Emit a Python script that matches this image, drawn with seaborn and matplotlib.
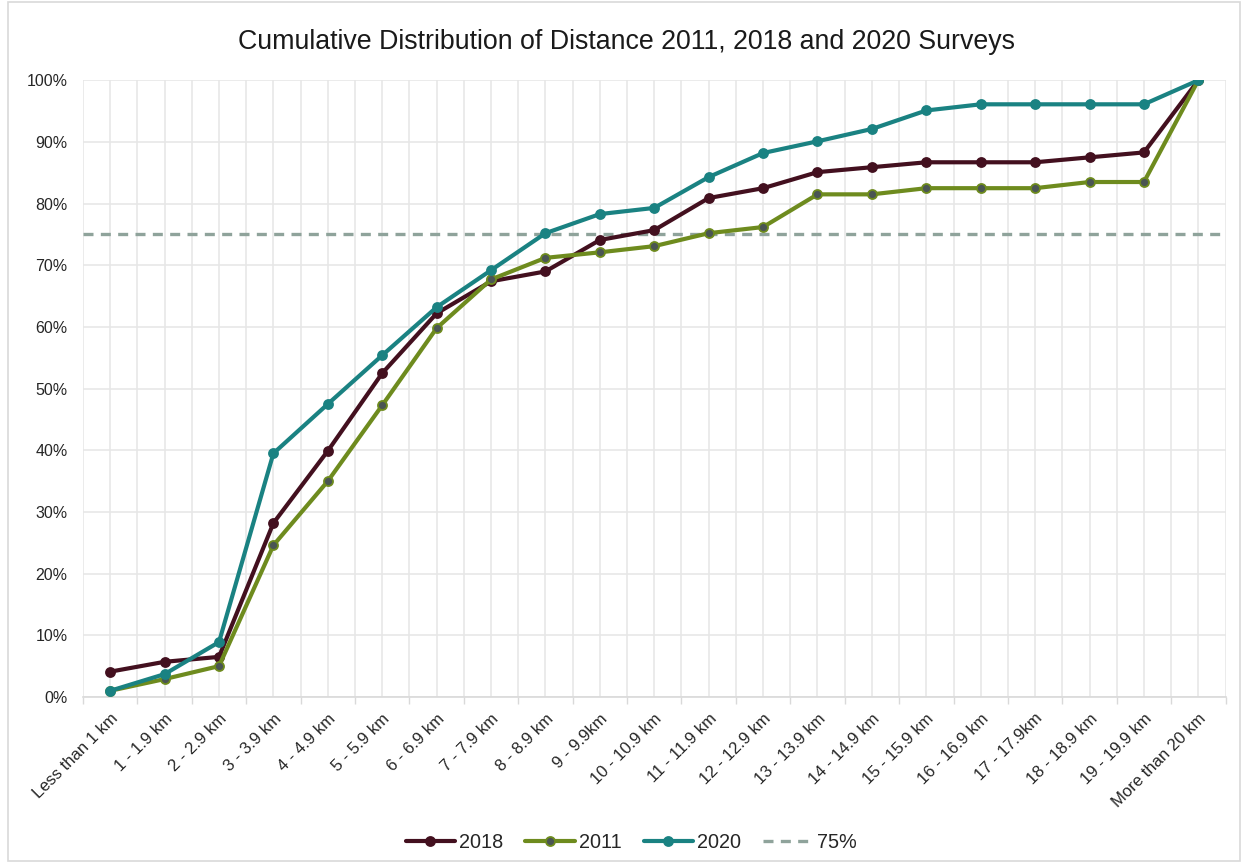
import matplotlib
matplotlib.use("Agg")
import matplotlib.pyplot as plt
import matplotlib.ticker as mticker
from matplotlib.patches import Rectangle
import numpy as np
import pandas as pd
import seaborn as sns

categories = [
    "Less than 1 km", "1 - 1.9 km", "2 - 2.9 km", "3 - 3.9 km", "4 - 4.9 km",
    "5 - 5.9 km", "6 - 6.9 km", "7 - 7.9 km", "8 - 8.9 km", "9 - 9.9km",
    "10 - 10.9 km", "11 - 11.9 km", "12 - 12.9 km", "13 - 13.9 km",
    "14 - 14.9 km", "15 - 15.9 km", "16 - 16.9 km", "17 - 17.9km",
    "18 - 18.9 km", "19 - 19.9 km", "More than 20 km",
]

pct_2018 = [4.1, 5.7, 6.5, 28.2, 39.9, 52.5, 62.2, 67.4, 69.0, 74.1, 75.7,
            80.9, 82.5, 85.1, 85.9, 86.7, 86.7, 86.7, 87.5, 88.3, 100.0]
pct_2011 = [1.0, 2.9, 5.0, 24.6, 35.0, 47.3, 59.8, 67.7, 71.2, 72.1, 73.1,
            75.2, 76.2, 81.5, 81.5, 82.5, 82.5, 82.5, 83.5, 83.5, 100.0]
pct_2020 = [1.0, 3.7, 8.9, 39.5, 47.5, 55.4, 63.2, 69.2, 75.2, 78.3, 79.3,
            84.3, 88.2, 90.1, 92.1, 95.1, 96.1, 96.1, 96.1, 96.1, 100.0]
threshold = 75.0

series = {"2018": pct_2018, "2011": pct_2011, "2020": pct_2020}
styles = {
    "2018": dict(color="#43101F", mfc="#43101F", mec="#43101F"),
    "2011": dict(color="#6E8B1E", mfc="#4A5553", mec="#6E8B1E"),
    "2020": dict(color="#1A8282", mfc="#1A8282", mec="#1A8282"),
}

df = pd.DataFrame(
    [(i, v, name) for name, vals in series.items() for i, v in enumerate(vals)],
    columns=["pos", "pct", "survey"],
)

sns.set_theme(style="white")
plt.rcParams["font.family"] = ["Liberation Sans", "DejaVu Sans"]

fig = plt.figure(figsize=(12.48, 8.63), dpi=100)
ax = fig.add_axes([0.0665, 0.1924, 0.9155, 0.7146])

for name in series:
    st = styles[name]
    sub = df[df["survey"] == name]
    sns.lineplot(data=sub, x="pos", y="pct", ax=ax, color=st["color"],
                 linewidth=3.0, marker="o", markersize=6.5,
                 markerfacecolor=st["mfc"], markeredgecolor=st["mec"],
                 markeredgewidth=1.3, label=name, zorder=3)

ax.axhline(threshold, color="#8FA39B", linewidth=2.4, linestyle=(0, (3, 2.2)),
           label="75%", zorder=2)

n = len(categories)
ax.set_xlim(-0.5, n - 0.5)
ax.set_ylim(0, 100)
ax.set_xticks(np.arange(n))
ax.set_xticklabels(categories, rotation=45, ha="right", rotation_mode="anchor",
                   fontsize=12, color="#262626")
ax.set_xticks(np.arange(n + 1) - 0.5, minor=True)
ax.yaxis.set_major_locator(mticker.MultipleLocator(10))
ax.yaxis.set_major_formatter(mticker.FuncFormatter(lambda v, _: f"{v:.0f}%"))
ax.tick_params(axis="y", labelsize=11.5, labelcolor="#262626", length=0, pad=11)
ax.tick_params(axis="x", which="major", length=0, pad=10)
ax.tick_params(axis="x", which="minor", length=5, width=1, color="#D9D9D9",
               direction="out", bottom=True)

ax.grid(True, which="major", axis="both", color="#E6E6E6", linewidth=1.1)
ax.grid(True, which="minor", axis="x", color="#E6E6E6", linewidth=1.1)
ax.set_axisbelow(True)
for side in ["top", "right", "left"]:
    ax.spines[side].set_visible(False)
ax.spines["bottom"].set_color("#D9D9D9")
ax.spines["bottom"].set_linewidth(1.2)
ax.set_xlabel("")
ax.set_ylabel("")

fig.text(627 / 1248, 1 - 42 / 863,
         "Cumulative Distribution of Distance 2011, 2018 and 2020 Surveys",
         fontsize=19.3, color="#1A1A1A", ha="center", va="center")

h, l = ax.get_legend_handles_labels()
if ax.get_legend() is not None:
    ax.get_legend().remove()
fig.legend(h, l, loc="center", bbox_to_anchor=(631 / 1248, 1 - 842 / 863),
           ncol=4, frameon=False, fontsize=14.3, handlelength=2.5,
           columnspacing=1.1, handletextpad=0.2)

fig.patches.append(Rectangle((8 / 1248, 0.002), 1 - 16 / 1248, 0.996,
                             transform=fig.transFigure, fill=False,
                             edgecolor="#D9D9D9", linewidth=1.2))

fig.savefig("out.png", dpi=100, facecolor="white")
